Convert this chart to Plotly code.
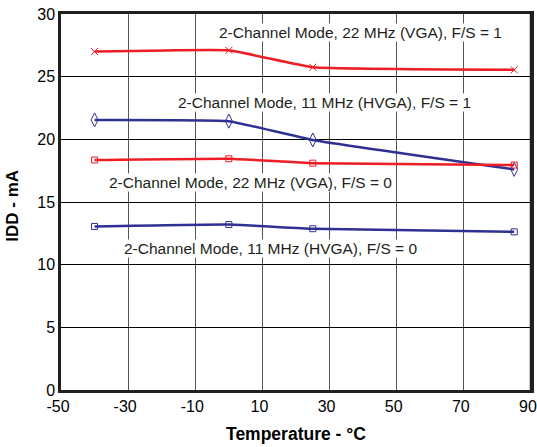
import plotly.graph_objects as go

temps = [-40, 0, 25, 85]
vga_fs1 = [27.0, 27.1, 25.75, 25.55]
hvga_fs1 = [21.55, 21.45, 19.95, 17.6]
vga_fs0 = [18.35, 18.45, 18.1, 17.95]
hvga_fs0 = [13.05, 13.2, 12.87, 12.62]

labels = [
    "2-Channel Mode, 22 MHz (VGA), F/S = 1",
    "2-Channel Mode, 11 MHz (HVGA), F/S = 1",
    "2-Channel Mode, 22 MHz (VGA), F/S = 0",
    "2-Channel Mode, 11 MHz (HVGA), F/S = 0",
]
x_ticks = [-50, -30, -10, 10, 30, 50, 70, 90]
y_ticks = [0, 5, 10, 15, 20, 25, 30]

RED = "#ee1c25"
BLUE = "#2e3192"
FONT = "Liberation Sans, Arial, sans-serif"

fig = go.Figure()
series = [
    (vga_fs1, RED, "x-thin-open", 7),
    (hvga_fs1, BLUE, "diamond-tall-open", 10),
    (vga_fs0, RED, "square-open", 6),
    (hvga_fs0, BLUE, "square-open", 6),
]
for (vals, col, sym, sz), name in zip(series, labels):
    fig.add_trace(go.Scatter(
        x=temps, y=vals, mode="lines+markers", name=name,
        line=dict(color=col, width=2.5, shape="spline", smoothing=0.3),
        marker=dict(symbol=sym, size=sz, color=col, line=dict(color=col, width=1)),
        showlegend=False,
    ))

ann_pos = [(39.2, 28.55), (28.5, 22.96), (6.45, 16.54), (12.55, 11.31)]
for (ax, ay), txt in zip(ann_pos, labels):
    fig.add_annotation(x=ax, y=ay, text=txt, showarrow=False,
                       font=dict(family=FONT, size=15.5, color="#231f20"),
                       bgcolor="white", borderpad=0)

fig.add_annotation(xref="paper", yref="paper", x=0.5, y=-0.118, yanchor="middle",
                   text="<b>Temperature - °C</b>", showarrow=False,
                   font=dict(family=FONT, size=17.5, color="#000000"))
fig.add_annotation(xref="paper", yref="paper", x=-0.103, xanchor="center", y=0.489,
                   text="<b>IDD - mA</b>", textangle=-90, showarrow=False,
                   font=dict(family=FONT, size=17, color="#000000"))

fig.update_layout(
    width=537, height=447,
    margin=dict(l=61, r=6, t=14, b=57),
    paper_bgcolor="white", plot_bgcolor="white",
    font=dict(family=FONT, color="#000000"),
)
fig.update_xaxes(
    range=[-50, 90], tickvals=x_ticks, ticktext=[str(v) for v in x_ticks],
    showgrid=True, gridcolor="#555555", gridwidth=1,
    showline=True, linecolor="#231f20", linewidth=2.5, mirror=True,
    ticks="", tickfont=dict(size=16), zeroline=False, automargin=False,
    ticklabeloverflow="allow", ticklabelshift=-3,
)
fig.update_yaxes(
    range=[0, 30], tickvals=y_ticks,
    showgrid=True, gridcolor="#000000", gridwidth=1.3,
    showline=True, linecolor="#231f20", linewidth=2.5, mirror=True,
    ticks="", tickfont=dict(size=16), zeroline=False, automargin=False,
)
# explicit right border of the plot area
fig.add_shape(type="line", xref="paper", yref="paper", x0=1, x1=1, y0=0, y1=1,
              line=dict(color="#231f20", width=2.5), layer="above")
fig.write_html(
    "out.html",
    config={"displayModeBar": False},
    post_script="document.documentElement.style.overflow='hidden';document.body.style.margin='0';document.body.style.overflow='hidden';",
)
